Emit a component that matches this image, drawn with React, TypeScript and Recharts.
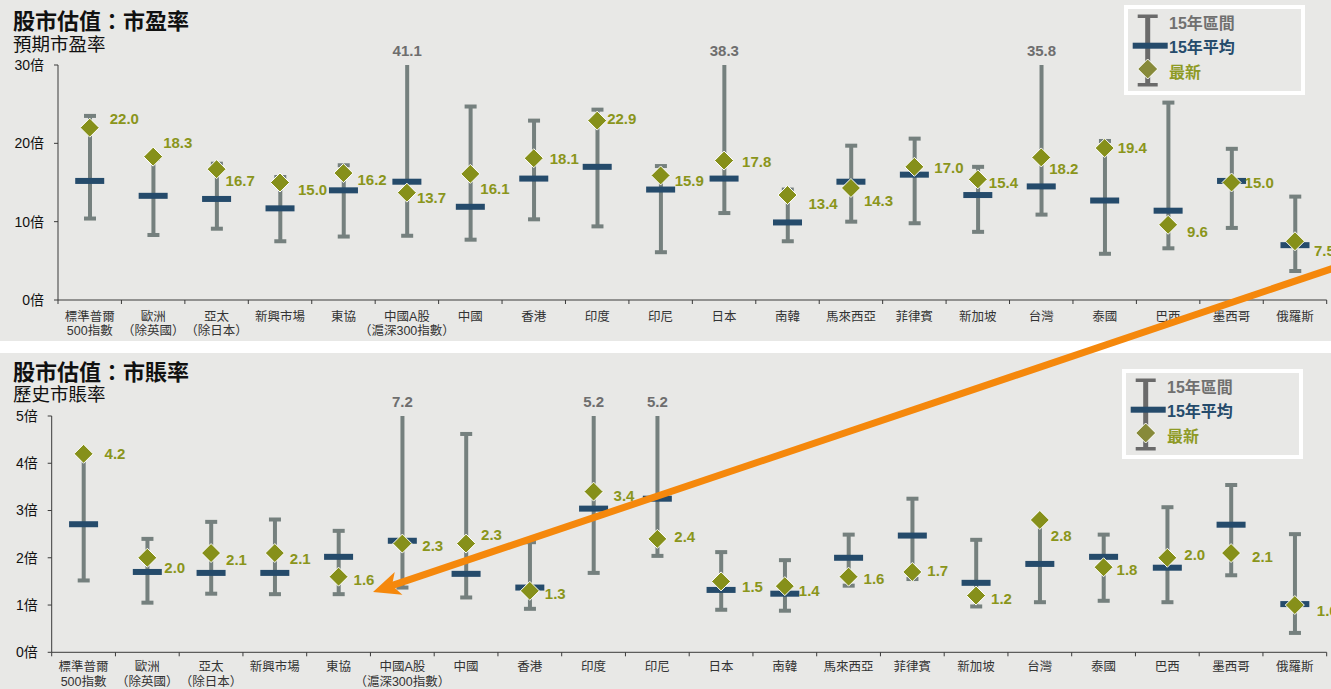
import React from 'react';
import { ComposedChart, Bar, Line, XAxis, YAxis, LabelList } from 'recharts';

// categories shared by both panels
const categories = [
  '標準普爾\n500指數',
  '歐洲\n（除英國）',
  '亞太\n（除日本）',
  '新興市場',
  '東協',
  '中國A股\n（滬深300指數）',
  '中國',
  '香港',
  '印度',
  '印尼',
  '日本',
  '南韓',
  '馬來西亞',
  '菲律賓',
  '新加坡',
  '台灣',
  '泰國',
  '巴西',
  '墨西哥',
  '俄羅斯',
];

// forward P/E
const peLow = [10.4, 8.3, 9.1, 7.5, 8.1, 8.2, 7.7, 10.3, 9.4, 6.1, 11.1, 7.5, 10.0, 9.8, 8.7, 10.9, 5.9, 6.6, 9.2, 3.7];
const peHigh = [23.5, 18.0, 17.4, 15.7, 17.2, 41.1, 24.7, 22.9, 24.3, 17.1, 38.3, 14.1, 19.7, 20.6, 17.0, 35.8, 20.3, 25.2, 19.3, 13.2];
const peMean = [15.2, 13.3, 12.9, 11.7, 14.0, 15.1, 11.9, 15.5, 17.0, 14.1, 15.5, 9.9, 15.1, 16.0, 13.4, 14.5, 12.7, 11.4, 15.2, 7.0];
const peLatest = [22.0, 18.3, 16.7, 15.0, 16.2, 13.7, 16.1, 18.1, 22.9, 15.9, 17.8, 13.4, 14.3, 17.0, 15.4, 18.2, 19.4, 9.6, 15.0, 7.5];
const peTicks = [0, 10, 20, 30];

// historical P/B
const pbLow = [1.52, 1.05, 1.24, 1.23, 1.23, 1.37, 1.16, 0.92, 1.68, 2.04, 0.9, 0.88, 1.41, 1.55, 0.97, 1.06, 1.09, 1.06, 1.63, 0.41];
const pbHigh = [4.2, 2.4, 2.76, 2.81, 2.57, 7.2, 4.62, 2.33, 5.2, 5.2, 2.12, 1.95, 2.49, 3.25, 2.38, 2.8, 2.49, 3.07, 3.54, 2.5];
const pbMean = [2.71, 1.7, 1.68, 1.68, 2.02, 2.36, 1.66, 1.37, 3.04, 3.25, 1.32, 1.24, 2.0, 2.47, 1.47, 1.87, 2.02, 1.79, 2.7, 1.02];
const pbLatest = [4.2, 2.0, 2.1, 2.1, 1.6, 2.3, 2.3, 1.3, 3.4, 2.4, 1.5, 1.4, 1.6, 1.7, 1.2, 2.8, 1.8, 2.0, 2.1, 1.0];
const pbTicks = [0, 1, 2, 3, 4, 5];

// hand placement of the "latest" value labels, [dx, dy] from the diamond (styling only)
const peLabelShift = [
  [20, -9], [10, -14], [9, 11], [18, 7], [14, 6], [10, 5], [10, 15], [16, 0], [10, -2], [14, 5],
  [18, 1], [21, 8], [13, 13], [20, 1], [11, 3], [8, 11], [13, -1], [19, 7], [13, 0], [19, 9],
];
const pbLabelShift = [
  [21, 0], [17, 10], [15, 6], [15, 5], [15, 3], [20, 2], [15, -9], [15, 3], [20, 4], [17, -2],
  [21, 5], [14, 4], [15, 2], [15, -1], [15, 3], [11, 16], [13, 2], [17, -3], [21, 3], [22, 5],
];

const W = 1331;
const PLOT_RIGHT = 1326.7;
const BG = '#e8e8e6';
const WHISKER = '#75807e';
const NAVY = '#254b6b';
const OLIVE = '#86901a';
const LABEL_OLIVE = '#8a951b';
const AXIS = '#3a3a3a';
const FONT = '"Liberation Sans", Arial, "Noto Sans CJK TC", sans-serif';

type Row = { cat: string; low: number; high: number; mean: number; latest: number };

const buildRows = (low: number[], high: number[], mean: number[], latest: number[]): Row[] =>
  categories.map((cat, i) => ({ cat, low: low[i], high: high[i], mean: mean[i], latest: latest[i] }));

const makeWhisker = (yMax: number) => (props: any) => {
  const { x, y, width, height, payload } = props;
  const cx = x + width / 2;
  const top = Math.min(y, y + height);
  const bot = Math.max(y, y + height);
  const clipped = payload.high > yMax;
  return (
    <g>
      <rect x={cx - 2} y={top} width={4} height={bot - top} fill={WHISKER} />
      {!clipped && <rect x={cx - 6} y={top - 2} width={12} height={4} fill={WHISKER} />}
      <rect x={cx - 6} y={bot - 2} width={12} height={4} fill={WHISKER} />
      {clipped && (
        <text x={cx} y={top - 9} textAnchor="middle" fontSize={15} fontWeight="bold" fill="#6e6e6e">
          {payload.high.toFixed(1)}
        </text>
      )}
    </g>
  );
};

const MeanDot = (props: any) => {
  const { cx, cy, index } = props;
  return <rect key={`m${index}`} x={cx - 14.5} y={cy - 3} width={29} height={6} fill={NAVY} />;
};

const Diamond = (props: any) => {
  const { cx, cy, index } = props;
  const r = 9.5;
  return (
    <polygon
      key={`d${index}`}
      points={`${cx},${cy - r} ${cx + r},${cy} ${cx},${cy + r} ${cx - r},${cy}`}
      fill={OLIVE}
      stroke="#fff"
      strokeWidth={1}
    />
  );
};

const makeValueLabel = (shift: number[][]) => (props: any) => {
  const { x, y, value, index } = props;
  const [dx, dy] = shift[index] || [15, 0];
  return (
    <text x={x + dx} y={y + dy + 5.5} fontSize={15} fontWeight="bold" fill={LABEL_OLIVE}>
      {Number(value).toFixed(1)}
    </text>
  );
};

const CatTick = (props: any) => {
  const { x, y, payload, index, band, firstDy } = props;
  const lines = String(payload.value).split('\n');
  const left = x - band / 2;
  const right = x + band / 2;
  return (
    <g>
      <line x1={left} x2={left} y1={y} y2={y + 4} stroke={AXIS} />
      {index === categories.length - 1 && <line x1={right} x2={right} y1={y} y2={y + 4} stroke={AXIS} />}
      <text x={x} y={y} textAnchor="middle" fontSize={12.5} fill="#333">
        {lines.map((l, i) => (
          <tspan key={i} x={x} dy={i === 0 ? firstDy : 14.3}>
            {l}
          </tspan>
        ))}
      </text>
    </g>
  );
};

function LegendBox({ left, top }: { left: number; top: number }) {
  return (
    <div
      style={{
        position: 'absolute',
        left,
        top,
        width: 181,
        height: 90,
        boxSizing: 'border-box',
        border: '4px solid #fff',
        background: BG,
      }}
    >
      <svg width={173} height={82} style={{ position: 'absolute', left: 0, top: 0 }}>
        <rect x={17.2} y={7} width={5} height={69} fill="#6a6a6a" />
        <rect x={9.7} y={5.5} width={20} height={3.5} fill="#6a6a6a" />
        <rect x={9.7} y={74} width={20} height={3.5} fill="#6a6a6a" />
        <rect x={4.7} y={33.7} width={35} height={6} fill={NAVY} />
        <polygon points="19.7,50 29.7,60 19.7,70 9.7,60" fill="#878a3a" stroke="#fff" strokeWidth={1} />
        <text x={41} y={20} fontSize={16} fontWeight="bold" fill="#707070">15年區間</text>
        <text x={41} y={43.5} fontSize={16} fontWeight="bold" fill={NAVY}>15年平均</text>
        <text x={41} y={68.5} fontSize={16} fontWeight="bold" fill="#8e9a25">最新</text>
      </svg>
    </div>
  );
}

type PanelProps = {
  top: number;
  height: number;
  title: string;
  subtitle: string;
  rows: Row[];
  yMax: number;
  ticks: number[];
  labelShift: number[][];
  yAxisW: number;
  plotTop: number;
  xAxisH: number;
  legendLeft: number;
  legendTop: number;
  labelDy: number;
  titleTop: number;
  subTop: number;
};

function Panel(p: PanelProps) {
  const band = (PLOT_RIGHT - p.yAxisW) / categories.length;
  const Whisker = makeWhisker(p.yMax);
  const ValueLabel = makeValueLabel(p.labelShift);
  return (
    <div style={{ position: 'absolute', left: 0, top: p.top, width: W, height: p.height, background: BG }}>
      <div style={{ position: 'absolute', left: 0, top: 0 }}>
        <ComposedChart
          width={W}
          height={p.height}
          data={p.rows}
          margin={{ top: p.plotTop, right: W - PLOT_RIGHT, bottom: 0, left: 0 }}
        >
          <XAxis
            dataKey="cat"
            height={p.xAxisH}
            interval={0}
            tickSize={0}
            tickMargin={0}
            tickLine={false}
            axisLine={{ stroke: AXIS }}
            tick={<CatTick band={band} firstDy={p.labelDy} />}
          />
          <YAxis
            width={p.yAxisW}
            domain={[0, p.yMax]}
            ticks={p.ticks}
            tickSize={4}
            tickMargin={10}
            axisLine={{ stroke: AXIS }}
            tickLine={{ stroke: AXIS }}
            tick={{ fontSize: 14, fill: '#111' }}
            tickFormatter={(v: number) => `${v}倍`}
          />
          <Bar
            dataKey={(d: Row) => [d.low, Math.min(d.high, p.yMax)]}
            barSize={16}
            shape={Whisker}
            isAnimationActive={false}
          />
          <Line
            dataKey="mean"
            stroke="none"
            dot={MeanDot}
            activeDot={false}
            isAnimationActive={false}
          />
          <Line
            dataKey="latest"
            stroke="none"
            dot={Diamond}
            activeDot={false}
            isAnimationActive={false}
          >
            <LabelList dataKey="latest" content={ValueLabel} />
          </Line>
        </ComposedChart>
      </div>
      <div
        style={{
          position: 'absolute',
          left: 13,
          top: p.titleTop,
          fontSize: 22,
          lineHeight: '24px',
          fontWeight: 'bold',
          color: '#111',
          whiteSpace: 'nowrap',
        }}
      >
        {p.title}
      </div>
      <div
        style={{
          position: 'absolute',
          left: 13,
          top: p.subTop,
          fontSize: 18.5,
          lineHeight: '20px',
          color: '#111',
          whiteSpace: 'nowrap',
        }}
      >
        {p.subtitle}
      </div>
      <LegendBox left={p.legendLeft} top={p.legendTop} />
    </div>
  );
}

// orange call-out arrow drawn over both panels
function Arrow() {
  const start = [1336, 267.3];
  const tip = [373, 592];
  const dx = start[0] - tip[0];
  const dy = start[1] - tip[1];
  const len = Math.hypot(dx, dy);
  const ux = dx / len;
  const uy = dy / len;
  const nx = -uy;
  const ny = ux;
  const headLen = 27;
  const headW = 12;
  const pt = (a: number, b: number) => `${tip[0] + ux * a + nx * b},${tip[1] + uy * a + ny * b}`;
  const lineEnd = [tip[0] + ux * (headLen - 8), tip[1] + uy * (headLen - 8)];
  return (
    <svg width={W} height={689} style={{ position: 'absolute', left: 0, top: 0, pointerEvents: 'none' }}>
      <line x1={start[0]} y1={start[1]} x2={lineEnd[0]} y2={lineEnd[1]} stroke="#f5880c" strokeWidth={7} />
      <polygon
        points={`${pt(0, 0)} ${pt(headLen, headW)} ${pt(headLen - 7, 0)} ${pt(headLen, -headW)}`}
        fill="#f5880c"
      />
    </svg>
  );
}

export default function App() {
  const peRows = buildRows(peLow, peHigh, peMean, peLatest);
  const pbRows = buildRows(pbLow, pbHigh, pbMean, pbLatest);
  return (
    <div style={{ position: 'relative', width: W, height: 689, background: '#fff', fontFamily: FONT, overflow: 'hidden' }}>
      <style>{'body{margin:0}'}</style>
      <Panel
        top={0}
        height={341}
        title="股市估值：市盈率"
        subtitle="預期市盈率"
        rows={peRows}
        yMax={30}
        ticks={peTicks}
        labelShift={peLabelShift}
        yAxisW={58}
        plotTop={65}
        xAxisH={41}
        legendLeft={1124}
        legendTop={5}
        labelDy={21}
        titleTop={10}
        subTop={35}
      />
      <Panel
        top={353}
        height={336}
        title="股市估值：市賬率"
        subtitle="歷史市賬率"
        rows={pbRows}
        yMax={5}
        ticks={pbTicks}
        labelShift={pbLabelShift}
        yAxisW={51.7}
        plotTop={63}
        xAxisH={36.7}
        legendLeft={1122}
        legendTop={16}
        labelDy={19}
        titleTop={8}
        subTop={32}
      />
      <Arrow />
    </div>
  );
}
